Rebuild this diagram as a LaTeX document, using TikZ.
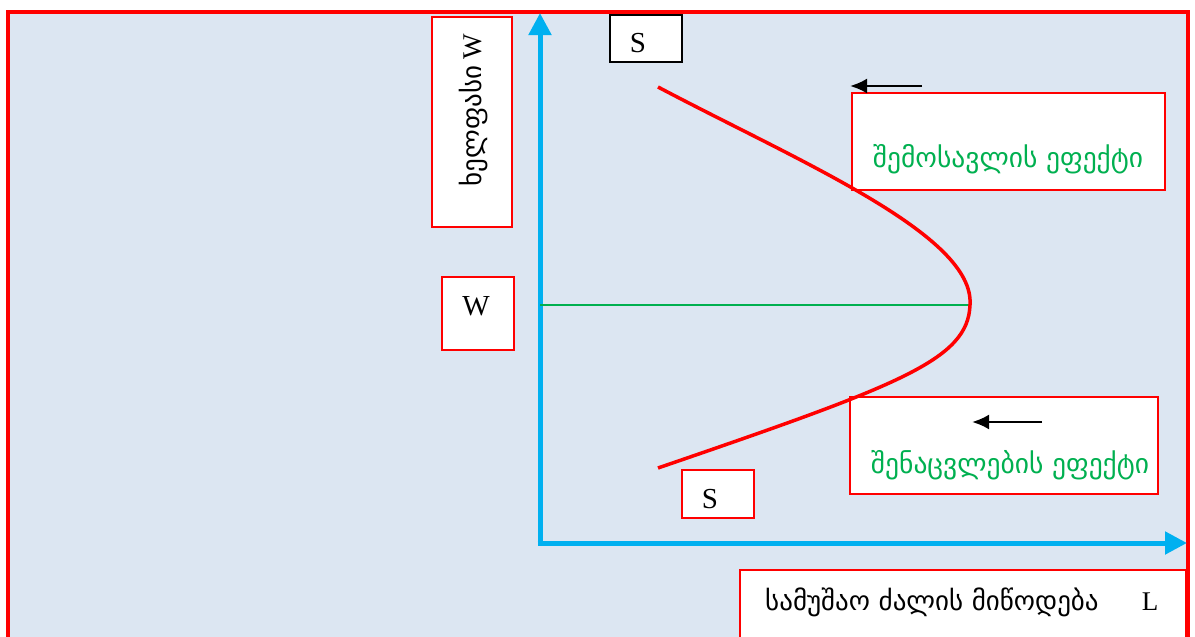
\documentclass[tikz,border=0pt]{standalone}
\usepackage{fontspec}
\setmainfont{Liberation Serif}
\newfontfamily\geo{DejaVu Sans}
\usetikzlibrary{arrows.meta}
\definecolor{bgblue}{HTML}{DCE6F2}
\definecolor{axisblue}{HTML}{00B0F0}
\definecolor{effgreen}{HTML}{00B050}
\begin{document}
\begin{tikzpicture}[x=1pt,y=-1pt,
 redbox/.style={draw=red, line width=1.5pt, fill=white, inner sep=0pt},
 blackbox/.style={draw=black, line width=1.5pt, fill=white, inner sep=0pt},
 lett/.style={font=\fontsize{29}{32}\selectfont, inner sep=0pt},
 gtext/.style={font=\geo\fontsize{27.5}{30}\selectfont, text=effgreen, inner sep=0pt},
 btext/.style={font=\fontsize{27}{30}\selectfont, inner sep=0pt},
 axis/.style={draw=axisblue, line width=5pt, -{Triangle[length=22pt,width=22pt]}},
 effarrow/.style={draw=black, line width=2.5pt, -{Latex[length=17pt,width=15pt]}}
]
\useasboundingbox (0,0) rectangle (1195,637);
\fill[white] (0,0) rectangle (1195,637);
\draw[red, line width=4pt, fill=bgblue] (8,12) rectangle (1188,660);

% boxes
\node[redbox, minimum width=80pt, minimum height=210pt] (ybox) at (472,122) {};
\node[blackbox, minimum width=72pt, minimum height=47pt] (stop) at (646,38.5) {};
\node[redbox, minimum width=72pt, minimum height=73pt] (wbox) at (478,313.5) {};
\node[redbox, minimum width=72pt, minimum height=48pt] (sbot) at (718,494) {};
\node[redbox, minimum width=313pt, minimum height=97pt] (b1) at (1008.5,141.5) {};
\node[redbox, minimum width=308pt, minimum height=97pt] (b2) at (1004,445.5) {};
\node[redbox, minimum width=446pt, minimum height=90pt] (b3) at (963,615) {};

% texts
\node[btext, rotate=90] (ylab) at (474,110) {{\geo ხელფასი} W};
\node[lett, anchor=base] (stxt) at (638,52) {S};
\node[lett, anchor=base] (wtxt) at (476,315) {W};
\node[lett, anchor=base] (sbtxt) at (710,508) {S};
\node[gtext, anchor=base] (t1) at (1008,167) {შემოსავლის ეფექტი};
\node[gtext, anchor=base] (t2) at (1010,473) {შენაცვლების ეფექტი};
\node[btext, anchor=base west] (t3) at (765,610) {{\geo სამუშაო ძალის მიწოდება}\hspace{1.6em}L};

% axes
\coordinate (Oy) at (540,545.5);
\coordinate (ytop) at (540,13);
\coordinate (Ox) at (537.5,543);
\coordinate (xend) at (1187,543);
\draw[axis] (Oy) -- (ytop);
\draw[axis] (Ox) -- (xend);

% curve and level line
\coordinate (wl) at (540,305);
\coordinate (vtx) at (970,305);
\coordinate (ctop) at (658,87);
\coordinate (cbot) at (658,468);
\draw[effgreen, line width=1.5pt] (wl) -- (vtx);
\draw[red, line width=3.5pt] (ctop) .. controls (800,162) and (975,235) .. (vtx) .. controls (968,360) and (900,385) .. (cbot);

% effect arrows
\coordinate (a1s) at (922,86);
\coordinate (a1e) at (850,86);
\coordinate (a2s) at (1042,422);
\coordinate (a2e) at (972,422);
\draw[effarrow] (a1s) -- (a1e);
\draw[effarrow] (a2s) -- (a2e);
\end{tikzpicture}
\end{document}
